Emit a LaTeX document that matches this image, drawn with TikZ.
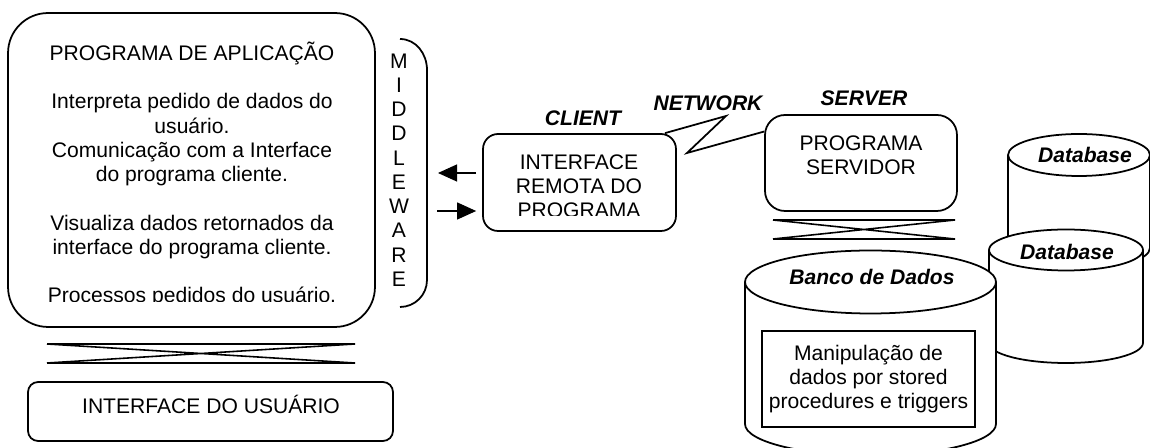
\documentclass[tikz,border=0pt]{standalone}
\usepackage{fontspec}
\setmainfont{Liberation Sans}
\usetikzlibrary{arrows.meta,calc}
\begin{document}
\begin{tikzpicture}[x=0.02cm,y=-0.02cm]
    \tikzset{
        txt/.style={font=\fontsize{12}{13.8}\selectfont, align=center, inner sep=0pt},
        lbl/.style={font=\fontsize{12}{13.8}\selectfont\bfseries\itshape, inner sep=0pt},
        box/.style={draw, line width=1pt, rounded corners=#1},
        arr/.style={line width=0.6pt, -{Triangle[length=0.38cm,width=0.34cm]}},
        db/.style={draw, fill=white, line width=1pt},
    }
    \def\crossbar(#1,#2)(#3,#4){\draw[line width=0.9pt] (#1,#2) -- (#3,#2) (#1,#4) -- (#3,#4) (#1,#2) -- (#3,#4) (#1,#4) -- (#3,#2);}
    \useasboundingbox (0,0) rectangle (1150,448);
    % client side
    \node[box=0.8cm, minimum width=7.34cm, minimum height=6.28cm] (app) at (191.5,170) {};
    \begin{scope}
        \clip (0,0) rectangle (1150,302);
        \node[txt] (apptext) at (192,174.5) {PROGRAMA DE APLICAÇÃO\\[13.8pt]
            Interpreta pedido de dados do\\usuário.\\Comunicação com a Interface\\do programa cliente.\\[13.8pt]
            Visualiza dados retornados da\\interface do programa cliente.\\[13.8pt]
            Processos pedidos do usuário.};
    \end{scope}
    \crossbar(47,344)(355,363)
    \node[box=0.2cm, minimum width=7.3cm, minimum height=1.18cm] (user) at (210.5,411.5) {};
    \node[txt] (usertext) at (211,404) {INTERFACE DO USUÁRIO};
    % middleware
    \node[txt] (mw) at (399,170) {M\\I\\D\\D\\L\\E\\W\\A\\R\\E};
    \draw[line width=1pt] (400,39) to[out=0,in=90] (427,70) -- (427,280) to[out=-90,in=0] (400,307);
    \node[box=0.3cm, minimum width=3.86cm, minimum height=1.94cm] (client) at (579.5,182.5) {};
    \begin{scope}
        \clip (0,0) rectangle (1150,216);
        \node[txt] (clienttext) at (579,186) {INTERFACE\\REMOTA DO\\PROGRAMA};
    \end{scope}
    \node[lbl] (clientlbl) at (583,118) {CLIENT};
    \coordinate (mwin) at (438,173);
    \coordinate (mwout) at (437,211);
    \draw[arr, shorten <=0.12cm] (client.west |- mwin) -- (mwin);
    \draw[arr, shorten >=0.12cm] (mwout) -- (client.west |- mwout);
    % server side
    \node[box=0.4cm, minimum width=3.84cm, minimum height=1.92cm] (server) at (861,163) {};
    \node[txt] (servertext) at (861,155) {PROGRAMA\\SERVIDOR};
    \node[lbl] (serverlbl) at (864,98) {SERVER};
    \crossbar(773,220)(955,239)
    \node[lbl] (netlbl) at (708,103) {NETWORK};
    \coordinate (zig1) at (726,116);
    \coordinate (zig2) at (687,153);
    \draw[line width=1pt] (client.30) -- (zig1) -- (zig2) -- (server.162);
    % databases
    \path[db] (1008,155) -- (1008,248) arc[start angle=180,end angle=360,x radius=1.42cm,y radius=0.42cm] -- (1150,155);
    \path[db] (1079,155) ellipse[x radius=1.42cm,y radius=0.42cm];
    \node[lbl] (dbback) at (1085,155) {Database};
    \path[db] (989,250) -- (989,343) arc[start angle=180,end angle=360,x radius=1.54cm,y radius=0.4cm] -- (1143,250);
    \path[db] (1066,250) ellipse[x radius=1.54cm,y radius=0.41cm];
    \node[lbl] (dbfront) at (1067,252) {Database};
    \path[db] (745,282) -- (745,424) arc[start angle=180,end angle=360,x radius=2.51cm,y radius=0.63cm] -- (996,282);
    \path[db] (870.5,282) ellipse[x radius=2.51cm,y radius=0.63cm];
    \node[lbl] (banco) at (872,277) {Banco de Dados};
    \node[txt, draw, line width=1pt, minimum width=4.26cm, minimum height=1.92cm] (proc) at (868.5,379) {Manipulação de\\dados por stored\\procedures e triggers};
\end{tikzpicture}
\end{document}
